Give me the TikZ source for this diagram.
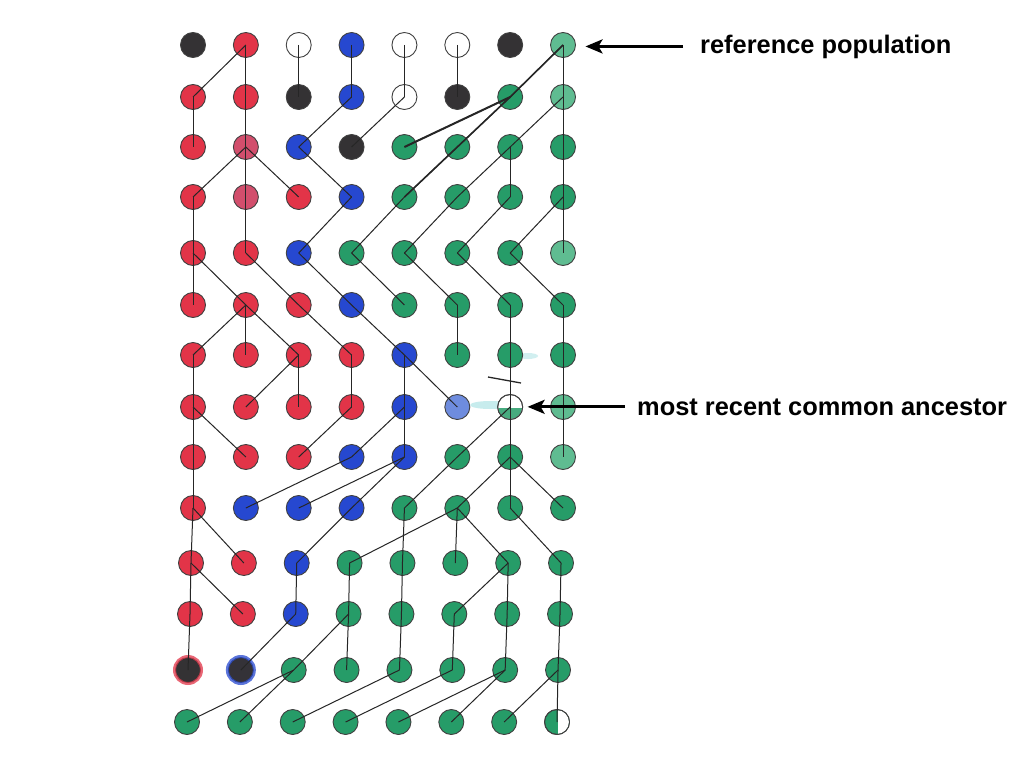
\documentclass[tikz,border=0pt]{standalone}
\usepackage{fontspec}
\setmainfont{Liberation Sans}
\usetikzlibrary{arrows.meta,calc}
\definecolor{cK}{RGB}{52,50,52}
\definecolor{cX}{RGB}{52,50,52}
\definecolor{cY}{RGB}{52,50,56}
\definecolor{cR}{RGB}{226,52,72}
\definecolor{cP}{RGB}{210,78,108}
\definecolor{cB}{RGB}{38,72,208}
\definecolor{cQ}{RGB}{110,140,222}
\definecolor{cW}{RGB}{255,255,255}
\definecolor{cM}{RGB}{255,255,255}
\definecolor{cG}{RGB}{38,156,104}
\definecolor{cH}{RGB}{38,156,104}
\definecolor{cL}{RGB}{95,188,145}
\begin{document}
\begin{tikzpicture}[x=1pt,y=-1pt,
  dot/.style={circle,minimum size=25pt,inner sep=0pt,draw=black!75,line width=0.9pt},
  link/.style={draw=black!85,line width=1pt},
  pointer/.style={-{Stealth[length=17pt,width=14pt,inset=4pt]},line width=3pt},
  lab/.style={font=\bfseries\fontsize{25.4}{30}\selectfont,inner sep=0pt,anchor=base west}]
\useasboundingbox[fill=white] (0,0) rectangle (1024,768);

% smudges
\fill[cyan!60!green,opacity=0.22] (490,405) ellipse (20pt and 4pt);
\fill[cyan!60!green,opacity=0.18] (528,356) ellipse (10pt and 3pt);

% nodes
\foreach \r/\cl in {
  0/{K,R,W,B,W,W,K,L},
  1/{R,R,K,B,W,K,G,L},
  2/{R,P,B,K,G,G,G,G},
  3/{R,P,R,B,G,G,G,G},
  4/{R,R,B,G,G,G,G,L},
  5/{R,R,R,B,G,G,G,G},
  6/{R,R,R,R,B,G,G,G},
  7/{R,R,R,R,B,Q,M,L},
  8/{R,R,R,B,B,G,G,L},
  9/{R,B,B,B,G,G,G,G},
  10/{R,R,B,G,G,G,G,G},
  11/{R,R,B,G,G,G,G,G},
  12/{X,Y,G,G,G,G,G,G},
  13/{G,G,G,G,G,G,G,H}}{
  \pgfmathsetmacro\yy{{45,97,147,197,253,305,355,407,457,508,563,614,670,722}[\r]}
  \pgfmathsetmacro\sh{{0,0,0,0,0,0,0,0,0,0,-2,-3,-5,-6}[\r]}
  \foreach \k [count=\c from 0] in \cl {
    \node[dot,fill=c\k] (n\r-\c) at ({193+52.86*\c+\sh},\yy) {};
  }
}

% special fills
\draw[cR,opacity=0.75,line width=3pt] (n12-0) circle (13.5pt);
\draw[cB,opacity=0.75,line width=3pt] (n12-1) circle (13.5pt);
\begin{scope}
  \clip (n13-7) circle (12pt);
  \fill[white] ($(n13-7)+(1,-13)$) rectangle ($(n13-7)+(13,13)$);
\end{scope}
\draw[black!75,line width=0.9pt] (n13-7) circle (12.5pt);
\begin{scope}
  \clip (n7-6) circle (12pt);
  \fill[cG!85] ($(n7-6)+(-13,1)$) rectangle ($(n7-6)+(13,13)$);
\end{scope}
\draw[black!75,line width=0.9pt] (n7-6) circle (12.5pt);

% genealogy links: parent column in the row above
\foreach \r/\ps in {
  1/{1,1,2,3,4,5,7,7},
  2/{0,1,3,4,6,6,7,7},
  3/{1,1,1,2,5,6,6,7},
  4/{0,1,3,4,5,6,7,7},
  5/{0,0,1,2,3,4,5,6},
  6/{1,1,1,2,3,5,6,7},
  7/{0,2,2,3,4,4,6,7},
  8/{0,0,3,4,4,6,6,7},
  9/{0,3,4,4,5,6,6,6},
  10/{0,0,3,5,4,5,5,6},
  11/{0,0,2,3,4,6,6,7},
  12/{0,2,3,3,4,5,6,7},
  13/{2,2,4,5,6,6,7,7}}{
  \pgfmathtruncatemacro\q{\r-1}
  \foreach \p [count=\c from 0] in \ps {
    \draw[link] (n\q-\p.center) -- (n\r-\c.center);
  }
}
\draw[link,line width=2pt] (n1-6.center) -- (n2-4.center);
\draw[link,line width=1.6pt] (n0-7.center) -- (n1-6.center) -- (n2-5.center) -- (n3-4.center);

% mark above the common ancestor
\draw[black!85,line width=1.3pt] (488,377) -- (521,383);

% labels
\node[lab] (lab1) at (700,53) {reference population};
\node[lab] (lab2) at (637,415) {most recent common ancestor};
\draw[pointer,shorten <=17pt,shorten >=9.5pt] (lab1.west) -- (lab1.west -| n0-7.east);
\draw[pointer,shorten <=12pt,shorten >=4.5pt] (lab2.west) -- (lab2.west -| n7-6.east);
\end{tikzpicture}
\end{document}
